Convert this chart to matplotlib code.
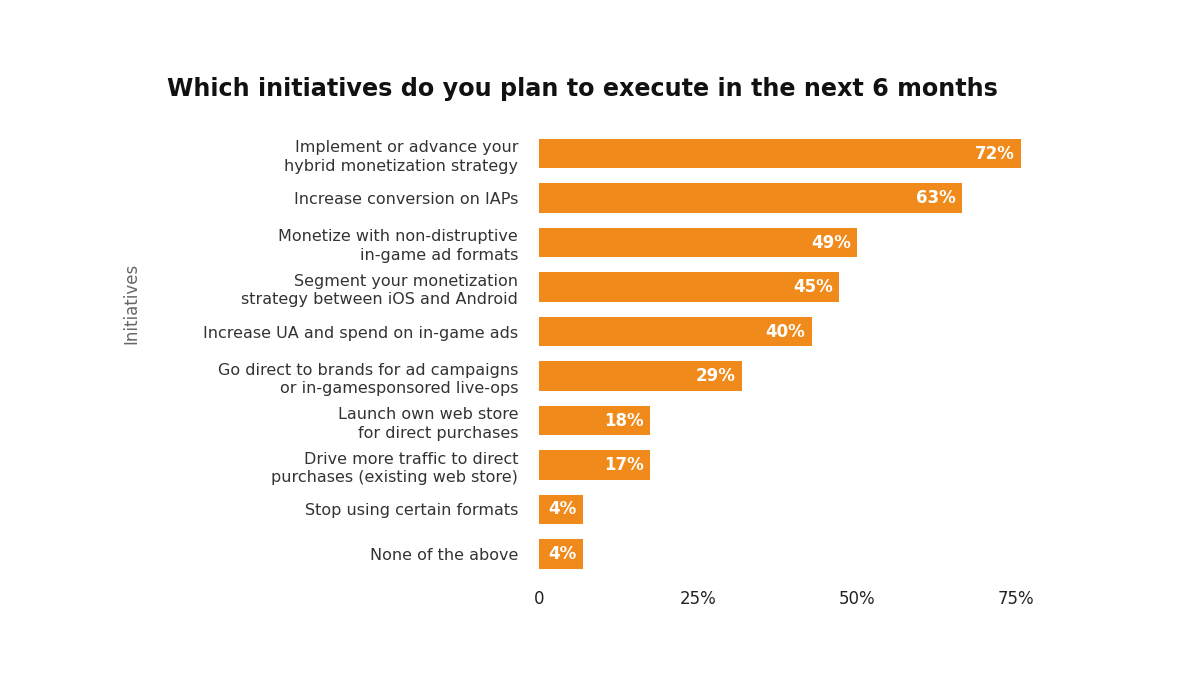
import numpy as np
import matplotlib.pyplot as plt

# categories, top to bottom
initiatives = [
    'Implement or advance your\nhybrid monetization strategy',
    'Increase conversion on IAPs',
    'Monetize with non-distruptive\nin-game ad formats',
    'Segment your monetization\nstrategy between iOS and Android',
    'Increase UA and spend on in-game ads',
    'Go direct to brands for ad campaigns\nor in-gamesponsored live-ops',
    'Launch own web store\nfor direct purchases',
    'Drive more traffic to direct\npurchases (existing web store)',
    'Stop using certain formats',
    'None of the above',
]
# values printed on the bars
values = [72, 63, 49, 45, 40, 29, 18, 17, 4, 4]
# bar lengths as drawn in the picture (read against the axis ticks)
bar_lengths = [75.8, 66.5, 50.0, 47.2, 42.9, 31.9, 17.5, 17.5, 6.9, 6.9]
xticks = [0, 25, 50, 75]
xtick_labels = ['0', '25%', '50%', '75%']

ORANGE = '#EF8A1B'

plt.rcParams['font.family'] = ['DejaVu Sans']

fig = plt.figure(figsize=(12, 6.75), dpi=100)
ax = fig.add_axes([539 / 1200, 1 - 576.25 / 675, 80 * 6.36 / 1200, 445 / 675])

y = np.arange(len(initiatives))
bars = ax.barh(y, bar_lengths, height=0.67, color=ORANGE)

for b, v in zip(bars, values):
    ax.text(b.get_width() - 1.0, b.get_y() + b.get_height() / 2, f'{v}%',
            ha='right', va='center', color='white', fontsize=12, fontweight='bold')

ax.set_xlim(0, 80)
ax.set_ylim(len(initiatives) - 0.5, -0.5)
ax.set_yticks(y)
ax.set_yticklabels(initiatives, fontsize=11.5, color='#333333', linespacing=1.3)
ax.set_xticks(xticks)
ax.set_xticklabels(xtick_labels, fontsize=12, color='#222222')
ax.tick_params(axis='y', length=0, pad=15)
ax.tick_params(axis='x', length=0, pad=10)
for s in ax.spines.values():
    s.set_visible(False)

fig.text(131 / 1200, 1 - 303 / 675, 'Initiatives', rotation=90, ha='center', va='center',
         fontsize=12, color='#666666')
fig.text(582 / 1200, 1 - 96 / 675, 'Which initiatives do you plan to execute in the next 6 months',
         ha='center', va='baseline', fontsize=17.2, fontweight='bold', color='#111111')

fig.savefig('out.png', dpi=100)
